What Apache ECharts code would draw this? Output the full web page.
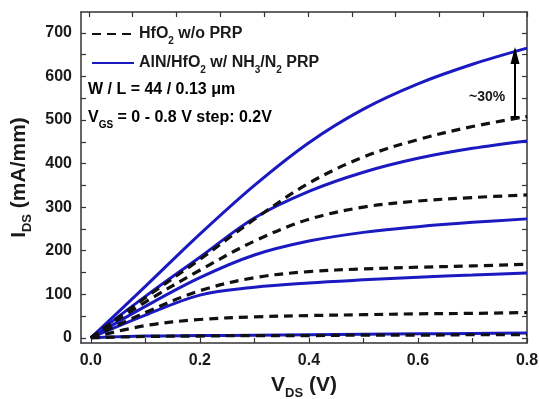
<!DOCTYPE html>
<html>
<head>
<meta charset="utf-8">
<script src="https://cdn.jsdelivr.net/npm/echarts@6/dist/echarts.min.js"></script>
<style>
  html, body { margin: 0; padding: 0; background: #fff; }
  #chart { width: 539px; height: 399px; }
</style>
</head>
<body>
<div id="chart"></div>
<script>
// V_DS sweep (V)
const vds = [0, 0.1, 0.2, 0.3, 0.4, 0.5, 0.6, 0.7, 0.8]

// HfO2 w/o PRP, V_GS = 0.8 ... 0 V (mA/mm)
const hfo2Vgs08 = [0, 92, 180, 272, 355, 415, 455, 485, 508]
const hfo2Vgs06 = [0, 82, 155, 222, 272, 300, 314, 322, 328]
const hfo2Vgs04 = [0, 58, 108, 138, 152, 158, 162, 165, 169]
const hfo2Vgs02 = [0, 28, 42, 48, 51, 53, 55, 56, 58]
const hfo2Vgs00 = [0, 3, 4, 5, 5, 6, 6, 7, 7]

// AlN/HfO2 w/ NH3/N2 PRP
const alnVgs08 = [0, 118, 238, 350, 448, 525, 583, 628, 665]
const alnVgs06 = [0, 95, 185, 275, 336, 380, 412, 435, 452]
const alnVgs04 = [0, 72, 138, 190, 222, 242, 255, 265, 273]
const alnVgs02 = [0, 52, 98, 116, 126, 133, 139, 144, 149]
const alnVgs00 = [0, 4, 5, 6, 7, 8, 9, 10, 11]

const xLabels = [0, 0.2, 0.4, 0.6, 0.8]
const xTicks = [0, 0.1, 0.2, 0.3, 0.4, 0.5, 0.6, 0.7, 0.8]
const yLabels = [0, 100, 200, 300, 400, 500, 600, 700]
const yTicks = [0, 50, 100, 150, 200, 250, 300, 350, 400, 450, 500, 550, 600, 650, 700]
const topTicks = [0, 1, 2, 3, 4, 5, 6, 7, 8, 9, 10]

// ~30% arrow: from end of HfO2 0.8V curve up to AlN 0.8V curve
const arrowX = 0.778
const arrowFrom = 508
const arrowTo = 662

const FONT = '"Liberation Sans", Arial, sans-serif'
const BLUE = '#1a1ac0'
const BLACK = '#111'

const rich = {
  n: { fontSize: 16, fontWeight: 'bold', fontFamily: FONT, color: '#1a1a1a', lineHeight: 24 },
  s: { fontSize: 10, fontWeight: 'bold', fontFamily: FONT, color: '#1a1a1a', lineHeight: 24, verticalAlign: 'bottom' },
  t: { fontSize: 21, fontWeight: 'bold', fontFamily: FONT, color: '#1a1a1a', lineHeight: 30 },
  ts: { fontSize: 13, fontWeight: 'bold', fontFamily: FONT, color: '#1a1a1a', lineHeight: 30, verticalAlign: 'bottom' }
}

const pairs = arr => vds.map((v, i) => [v, arr[i]])

const dashed = (data) => ({
  name: 'hfo2', type: 'line', data: pairs(data), smooth: 0.35, symbol: 'none',
  lineStyle: { color: BLACK, width: 3.2, type: [9, 6] }, itemStyle: { color: BLACK }, z: 3
})
const solid = (data) => ({
  name: 'aln', type: 'line', data: pairs(data), smooth: 0.35, symbol: 'none',
  lineStyle: { color: BLUE, width: 3 }, itemStyle: { color: BLUE }, z: 2
})

const axisLine = { show: true, onZero: false, lineStyle: { color: '#333', width: 1.5 } }
const tickStyle = { color: '#333', width: 1.2 }

const chart = echarts.init(document.getElementById('chart'))
const option = {
  animation: false,
  grid: { left: 81, right: 12, top: 12, bottom: 56, outerBoundsMode: 'none' },
  legend: {
    data: ['hfo2', 'aln'],
    orient: 'vertical',
    left: 86,
    top: 21,
    itemWidth: 42,
    itemHeight: 14,
    itemGap: 9,
    selectedMode: false,
    itemStyle: { opacity: 0 },
    formatter: function (name) {
      return name === 'hfo2'
        ? '{n|HfO}{s|2}{n| w/o PRP}'
        : '{n|AlN/HfO}{s|2}{n| w/ NH}{s|3}{n|/N}{s|2}{n| PRP}'
    },
    textStyle: { rich: rich }
  },
  xAxis: [
    {
      type: 'value', min: -0.018, max: 0.8,
      name: '{t|V}{ts|DS}{t| (V)}', nameLocation: 'middle', nameGap: 27,
      nameTextStyle: { rich: rich },
      axisLine: axisLine,
      axisTick: { show: true, inside: true, length: 5, lineStyle: tickStyle, customValues: xTicks },
      axisLabel: {
        customValues: xLabels, margin: 10,
        fontSize: 16, fontWeight: 'bold', fontFamily: FONT, color: '#1a1a1a',
        formatter: v => v.toFixed(1)
      },
      splitLine: { show: false }
    },
    {
      type: 'value', position: 'top', min: -0.18, max: 10,
      axisLine: axisLine,
      axisTick: { show: true, inside: true, length: 5, lineStyle: tickStyle, customValues: topTicks },
      axisLabel: { show: false },
      splitLine: { show: false }
    }
  ],
  yAxis: [
    {
      type: 'value', min: -12, max: 748,
      name: '{t|I}{ts|DS}{t| (mA/mm)}', nameLocation: 'middle', nameGap: 46, nameRotate: 90,
      nameTextStyle: { rich: rich },
      axisLine: axisLine,
      axisTick: { show: true, inside: true, length: 5, lineStyle: tickStyle, customValues: yTicks },
      axisLabel: {
        customValues: yLabels, margin: 9,
        fontSize: 16, fontWeight: 'bold', fontFamily: FONT, color: '#1a1a1a'
      },
      splitLine: { show: false }
    },
    {
      type: 'value', position: 'right', min: -12, max: 748,
      axisLine: axisLine,
      axisTick: { show: true, inside: true, length: 5, lineStyle: tickStyle, customValues: yTicks },
      axisLabel: { show: false },
      splitLine: { show: false }
    }
  ],
  series: [
    dashed(hfo2Vgs08), dashed(hfo2Vgs06), dashed(hfo2Vgs04), dashed(hfo2Vgs02), dashed(hfo2Vgs00),
    Object.assign(solid(alnVgs08), {
      markLine: {
        silent: true,
        symbol: ['none', 'triangle'],
        symbolSize: [0, 11],
        label: { show: false },
        lineStyle: { color: '#000', width: 2, type: 'solid' },
        data: [
          [{ coord: [arrowX, arrowFrom] }, { coord: [arrowX, arrowTo], symbol: 'triangle', symbolSize: [9, 17], symbolOffset: [0, 6] }],
          [{ coord: [arrowX - 0.008, arrowFrom], symbol: 'none' }, { coord: [arrowX + 0.008, arrowFrom], symbol: 'none' }]
        ]
      }
    }),
    solid(alnVgs06), solid(alnVgs04), solid(alnVgs02), solid(alnVgs00)
  ],
  graphic: [
    {
      type: 'text', left: 88, top: 82,
      style: { text: '{n|W / L = 44 / 0.13 μm}', rich: rich }
    },
    {
      type: 'text', left: 88, top: 110,
      style: { text: '{n|V}{s|GS}{n| = 0 - 0.8 V step: 0.2V}', rich: rich }
    },
    {
      type: 'text', left: 469, top: 90,
      style: { text: '~30%', fontSize: 14, fontWeight: 'bold', fontFamily: FONT, fill: '#1a1a1a' }
    }
  ]
}
chart.setOption(option)
</script>
</body>
</html>
